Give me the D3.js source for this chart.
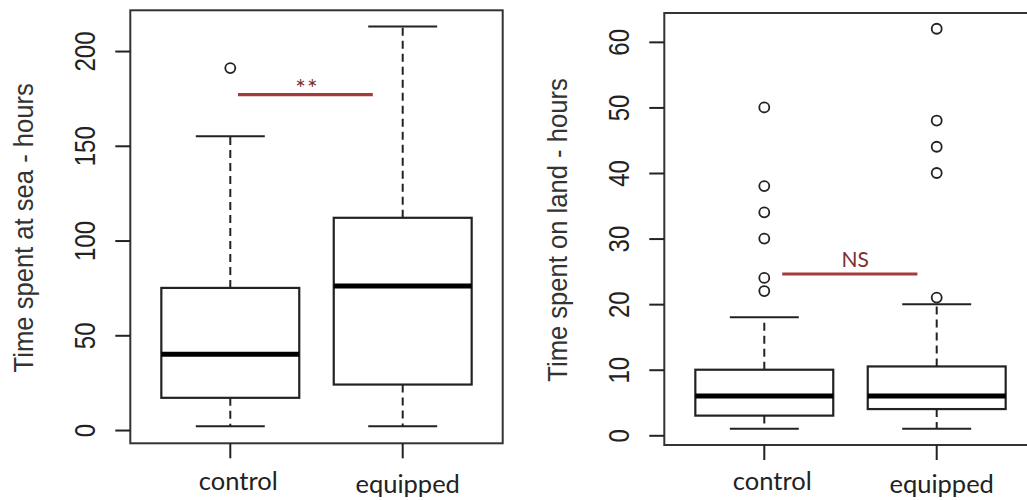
<!DOCTYPE html>
<html>
<head>
<meta charset="utf-8">
<script src="https://cdn.jsdelivr.net/npm/d3@7"></script>
<style>
  body { margin: 0; background: #fff; }
  svg { display: block; }
</style>
</head>
<body>
<div id="chart"></div>
<script>
// groups on the x axis
var groups = ["control", "equipped"];

// five-number summaries [lower whisker, Q1, median, Q3, upper whisker]
var seaStats = [[2, 17, 40, 75, 155], [2, 24, 76, 112, 213]];
var seaOutliers = [[191], []];
var seaTicks = [0, 50, 100, 150, 200];

var landStats = [[1, 3, 6, 10, 18], [1, 4, 6, 10.5, 20]];
var landOutliers = [[22, 24, 30, 34, 38, 50], [21, 40, 44, 48, 62]];
var landTicks = [0, 10, 20, 30, 40, 50, 60];

// significance bars
var sigLabels = ["**", "NS"];
var sigValues = [177, 24.6];

var titles = ["Time spent at sea - hours", "Time spent on land - hours"];

var width = 1027;
var height = 500;
var ink = "#222";
var sigLine = "#a33b3b";
var sigText = "#7e2f2f";

var svg = d3.select("#chart").append("svg")
  .attr("width", width)
  .attr("height", height);

// layout per panel (sig bar ends given as fractions of box width from the centres)
var panels = [
  { stats: seaStats, outliers: seaOutliers, ticks: seaTicks, domain: [-7, 221.5],
    left: 130.3, top: 10.3, bottom: 443.3, titleX: 33, sigFrom: 0.056, sigTo: 0.217, sigDx: 1.5 },
  { stats: landStats, outliers: landOutliers, ticks: landTicks, domain: [-1.48, 64.4],
    left: 664.3, top: 13, bottom: 445, titleX: 566.5, sigFrom: 0.13, sigTo: 0.14, sigDx: 5.5 }
];

var plotWidth = 372.4;

panels.forEach(function (p, pi) {
  var x = d3.scaleBand()
    .domain(groups)
    .range([p.left, p.left + plotWidth])
    .paddingInner(0.2)
    .paddingOuter(0.18);

  var y = d3.scaleLinear()
    .domain(p.domain)
    .range([p.bottom, p.top]);

  var g = svg.append("g");
  var bw = x.bandwidth();
  var cx = d => x(d) + bw / 2;

  /* whiskers */
  var boxes = g.selectAll(".box")
    .data(groups.map((name, i) => ({ name: name, s: p.stats[i], out: p.outliers[i] })))
    .join("g")
    .attr("class", "box");

  boxes.append("line")
    .attr("x1", d => cx(d.name)).attr("x2", d => cx(d.name))
    .attr("y1", d => y(d.s[3])).attr("y2", d => y(d.s[4]))
    .attr("stroke", ink).attr("stroke-width", 2).attr("stroke-dasharray", "8,5");
  boxes.append("line")
    .attr("x1", d => cx(d.name)).attr("x2", d => cx(d.name))
    .attr("y1", d => y(d.s[1])).attr("y2", d => y(d.s[0]))
    .attr("stroke", ink).attr("stroke-width", 2).attr("stroke-dasharray", "8,5");

  // caps
  [0, 4].forEach(function (k) {
    boxes.append("line")
      .attr("x1", d => cx(d.name) - bw / 4).attr("x2", d => cx(d.name) + bw / 4)
      .attr("y1", d => y(d.s[k])).attr("y2", d => y(d.s[k]))
      .attr("stroke", ink).attr("stroke-width", 2);
  });

  /* box */
  boxes.append("rect")
    .attr("x", d => x(d.name))
    .attr("width", bw)
    .attr("y", d => y(d.s[3]))
    .attr("height", d => y(d.s[1]) - y(d.s[3]))
    .attr("fill", "#fff")
    .attr("stroke", ink)
    .attr("stroke-width", 2.2);

  // median
  boxes.append("line")
    .attr("x1", d => x(d.name)).attr("x2", d => x(d.name) + bw)
    .attr("y1", d => y(d.s[2])).attr("y2", d => y(d.s[2]))
    .attr("stroke", "#000").attr("stroke-width", 5);

  /* outliers */
  boxes.selectAll("circle")
    .data(d => d.out.map(v => ({ name: d.name, v: v })))
    .join("circle")
    .attr("cx", d => cx(d.name))
    .attr("cy", d => y(d.v))
    .attr("r", 5)
    .attr("fill", "none")
    .attr("stroke", ink)
    .attr("stroke-width", 1.8);

  /* plot frame */
  g.append("rect")
    .attr("x", p.left)
    .attr("y", p.top)
    .attr("width", plotWidth)
    .attr("height", p.bottom - p.top)
    .attr("fill", "none")
    .attr("stroke", "#333")
    .attr("stroke-width", 2);

  /* y axis, labels rotated and a bit stretched like the picture */
  var yAxis = d3.axisLeft(y).tickValues(p.ticks).tickSize(15).tickSizeOuter(0);
  var ya = g.append("g")
    .attr("transform", `translate(${p.left},0)`)
    .call(yAxis);
  ya.select(".domain").remove();
  ya.selectAll(".tick line").attr("stroke", ink).attr("stroke-width", 2);
  ya.selectAll(".tick text")
    .attr("x", 0)
    .attr("y", 0)
    .attr("dy", 0)
    .attr("transform", "translate(-35.5,0) rotate(-90) scale(1,1.2)")
    .attr("text-anchor", "middle")
    .attr("fill", ink)
    .style("font-family", "'Liberation Sans', Arial, sans-serif")
    .style("font-size", "24px");

  /* x axis */
  var xAxis = d3.axisBottom(x).tickSize(15).tickSizeOuter(0).tickFormat("");
  var xa = g.append("g")
    .attr("transform", `translate(0,${p.bottom})`)
    .call(xAxis);
  xa.select(".domain").remove();
  xa.selectAll(".tick line").attr("stroke", ink).attr("stroke-width", 2);

  g.selectAll(".xlabel")
    .data(groups)
    .join("text")
    .attr("class", "xlabel")
    .attr("x", (d, i) => cx(d) + (i == 0 ? 8 : 5))
    .attr("y", (d, i) => i == 0 ? 490 : 492.5)
    .attr("text-anchor", "middle")
    .attr("fill", ink)
    .style("font-family", "Lato, 'Open Sans', sans-serif")
    .style("font-size", "25.5px")
    .text(d => d);

  /* y title */
  g.append("text")
    .attr("transform", `translate(${p.titleX},${(p.top + p.bottom) / 2 + 1}) rotate(-90) scale(1,1.07)`)
    .attr("text-anchor", "middle")
    .attr("fill", "#333")
    .style("font-family", "'Liberation Sans', Arial, sans-serif")
    .style("font-size", "25.6px")
    .text(titles[pi]);

  /* significance bar */
  var x1 = cx(groups[0]) + bw * p.sigFrom;
  var x2 = cx(groups[1]) - bw * p.sigTo;
  g.append("line")
    .attr("x1", x1).attr("x2", x2)
    .attr("y1", y(sigValues[pi])).attr("y2", y(sigValues[pi]))
    .attr("stroke", sigLine).attr("stroke-width", 3.2);
  g.append("text")
    .attr("x", (x1 + x2) / 2 + p.sigDx)
    .attr("y", y(sigValues[pi]) + (pi == 0 ? 3 : -6.5))
    .attr("text-anchor", "middle")
    .attr("fill", sigText)
    .style("font-family", "Lato, 'Open Sans', sans-serif")
    .style("font-size", pi == 0 ? "25px" : "21px")
    .style("letter-spacing", pi == 0 ? "1px" : "0px")
    .text(sigLabels[pi]);
});
</script>
</body>
</html>
